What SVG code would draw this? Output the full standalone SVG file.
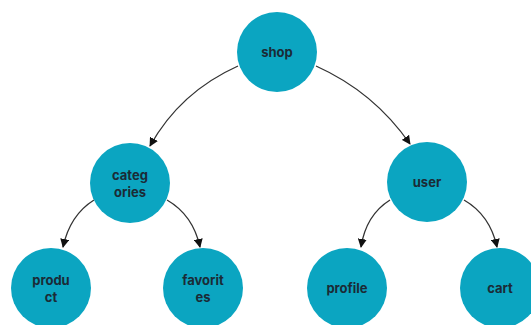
<svg xmlns="http://www.w3.org/2000/svg" width="531" height="325" viewBox="0 0 531 325">
<style>
.n{fill:#0ba5c1;}
.t{font-family:Inter,"Liberation Sans",sans-serif;font-size:13px;font-weight:700;fill:#1b2b36;text-anchor:middle;}
.e{fill:none;stroke:#333;stroke-width:1.3;marker-end:url(#a);}
</style>
<defs>
<marker id="a" viewBox="0 0 10 10" refX="9" refY="5" markerWidth="9" markerHeight="9" markerUnits="userSpaceOnUse" orient="auto">
<path d="M0,0 L10,5 L0,10 z" fill="#111"/>
</marker>
</defs>
<rect width="531" height="325" fill="#fff"/>
<g id="edges">
<path class="e" d="M238,66 Q180,92 150,146"/>
<path class="e" d="M316,66 Q374,92 410,144"/>
<path class="e" d="M94,200 Q70,215 63,247"/>
<path class="e" d="M167,200 Q193,215 200,247"/>
<path class="e" d="M390,200 Q366,215 361,247"/>
<path class="e" d="M464,200 Q490,215 497,247"/>
</g>
<g id="shop"><circle class="n" cx="277" cy="52" r="40"/><text class="t" x="277" y="57">shop</text></g>
<g id="categories"><circle class="n" cx="130" cy="183" r="40"/><text class="t" x="130" y="180">categ</text><text class="t" x="130" y="197">ories</text></g>
<g id="user"><circle class="n" cx="427" cy="182" r="40"/><text class="t" x="427" y="187">user</text></g>
<g id="product"><circle class="n" cx="51" cy="288" r="40"/><text class="t" x="51" y="285">produ</text><text class="t" x="51" y="302">ct</text></g>
<g id="favorites"><circle class="n" cx="203" cy="288" r="40"/><text class="t" x="203" y="285">favorit</text><text class="t" x="203" y="302">es</text></g>
<g id="profile"><circle class="n" cx="347" cy="288" r="40"/><text class="t" x="347" y="293">profile</text></g>
<g id="cart"><circle class="n" cx="500" cy="288" r="40"/><text class="t" x="500" y="293">cart</text></g>
</svg>
